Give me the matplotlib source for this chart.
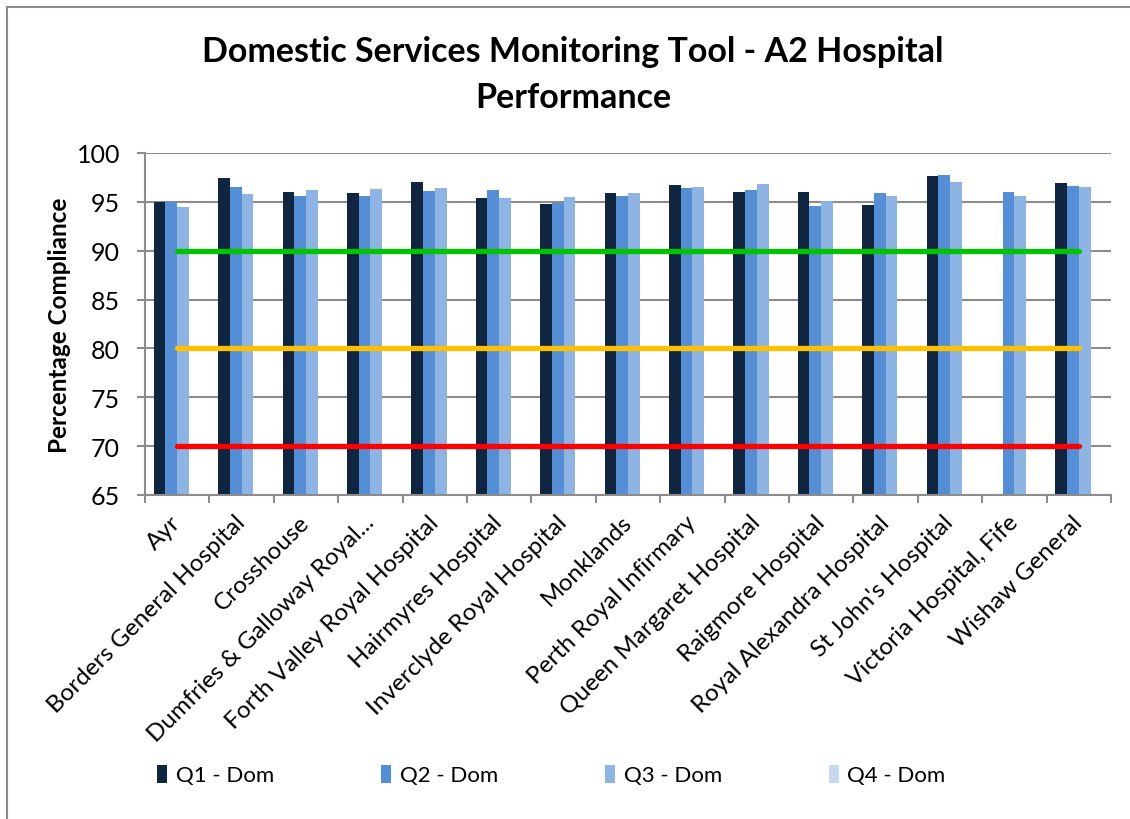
import numpy as np
import matplotlib
matplotlib.use("Agg")
import matplotlib.pyplot as plt
from matplotlib.patches import Rectangle

plt.rcParams['font.family'] = ['Lato', 'DejaVu Sans']

hospitals = ['Ayr', 'Borders General Hospital', 'Crosshouse', 'Dumfries & Galloway Royal...',
             'Forth Valley Royal Hospital', 'Hairmyres Hospital', 'Inverclyde Royal Hospital',
             'Monklands', 'Perth Royal Infirmary', 'Queen Margaret Hospital', 'Raigmore Hospital',
             'Royal Alexandra Hospital', "St John's Hospital", 'Victoria Hospital, Fife',
             'Wishaw General']
q1 = [95.0, 97.4, 96.0, 95.9, 97.0, 95.35, 94.8, 95.9, 96.7, 96.0, 96.05, 94.7, 97.6, np.nan, 96.9]
q2 = [95.0, 96.55, 95.6, 95.6, 96.1, 96.25, 94.9, 95.55, 96.4, 96.2, 94.55, 95.9, 97.7, 96.05, 96.6]
q3 = [94.5, 95.8, 96.2, 96.3, 96.4, 95.35, 95.45, 95.9, 96.5, 96.8, 95.05, 95.65, 97.0, 95.65, 96.5]
q4 = [np.nan] * 15
series = ['Q1 - Dom', 'Q2 - Dom', 'Q3 - Dom', 'Q4 - Dom']
colors = ['#10253F', '#558ED5', '#8EB4E3', '#C6D9F1']

targets = [90, 80, 70]
target_colors = ['#00C400', '#FFC000', '#FF0000']

fig = plt.figure(figsize=(11.3, 8.2), dpi=100)
fig.patches.append(Rectangle((7 / 1130, -0.1), 1.5, 1.1 - 8 / 820, transform=fig.transFigure,
                             fill=False, edgecolor='#8c8c8c', linewidth=1.5))
ax = fig.add_axes([145 / 1130, (820 - 496) / 820, (1111 - 145) / 1130, (496 - 154) / 820])

x = np.arange(len(hospitals))
w = 1 / 5.5
for i, (vals, c, name) in enumerate(zip([q1, q2, q3, q4], colors, series)):
    ax.bar(x + (i - 1.5) * w, np.array(vals) - 65, width=w, bottom=65, color=c,
           label=name, zorder=2)

# target lines
for t, c in zip(targets, target_colors):
    ax.plot([x[0], x[-1]], [t, t], color=c, linewidth=3.8, solid_capstyle='round', zorder=3)

ax.set_xlim(-0.5, len(hospitals) - 0.5)
ax.set_ylim(65, 100)
ax.set_yticks(range(65, 101, 5))
ax.yaxis.grid(True, color='#8c8c8c', linewidth=1.5, zorder=0)
ax.set_axisbelow(True)
for s in ['top', 'right']:
    ax.spines[s].set_visible(False)
for s in ['left', 'bottom']:
    ax.spines[s].set_color('#8c8c8c')
    ax.spines[s].set_linewidth(1.5)
ax.tick_params(axis='y', length=6, width=1.5, color='#8c8c8c', labelsize=18, pad=12)
ax.set_xticks(np.arange(len(hospitals) + 1) - 0.5, minor=False)
ax.set_xticklabels([])
ax.tick_params(axis='x', which='major', length=6, width=1.5, color='#8c8c8c')
ax.set_xticks(x, minor=True)
ax.set_xticklabels(hospitals, minor=True, rotation=45, ha='right', va='center',
                   rotation_mode='anchor', fontsize=17.5)
ax.tick_params(axis='x', which='minor', length=0, pad=17)

ax.set_ylabel('Percentage Compliance', fontsize=17.5, fontweight='bold', labelpad=4)

fig.text(0.507, 1 - 75 / 820, 'Domestic Services Monitoring Tool - A2 Hospital\nPerformance',
         ha='center', va='center', fontsize=24.5, fontweight='bold', linespacing=1.55)

fig.legend(loc='center', bbox_to_anchor=(0.488, (820 - 776) / 820), ncol=4, frameon=False,
           fontsize=16, handlelength=0.45, handleheight=0.9, handletextpad=0.4,
           columnspacing=4.8)

fig.savefig('out.png', dpi=100)
